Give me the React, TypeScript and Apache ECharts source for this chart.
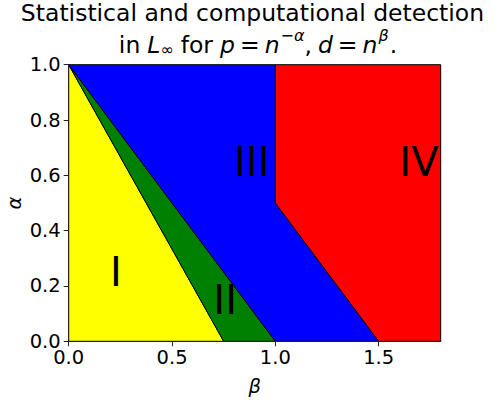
import React, { useEffect, useRef } from "react";
import * as echarts from "echarts";

// Region vertices (beta, alpha)
const regionI: number[][] = [[0, 0], [0, 1], [0.75, 0]];
const regionII: number[][] = [[0, 1], [0.75, 0], [1, 0]];
const regionIII: number[][] = [[0, 1], [1, 0], [1.5, 0], [1, 0.5], [1, 1]];
const regionIV: number[][] = [[1, 1], [1, 0.5], [1.5, 0], [1.8, 0], [1.8, 1]];
const regions = [regionI, regionII, regionIII, regionIV];
const regionColors = ["#ffff00", "#008000", "#0000ff", "#ff0000"];

// Region labels: text, beta, alpha (left/baseline anchored)
const labelTexts = ["I", "II", "III", "IV"];
const labelBeta = [0.2, 0.7, 0.8, 1.6];
const labelAlpha = [0.2, 0.1, 0.6, 0.6];

const betaTicks = [0, 0.5, 1.0, 1.5];
const alphaTicks = [0, 0.2, 0.4, 0.6, 0.8, 1.0];
const betaMax = 1.8;
const alphaMax = 1.0;

const titleLine1 = "Statistical and computational detection";
// title line 2 pieces: text, kind (r = roman, i = italic, sup/supi = superscript, sub = subscript), gap before (px)
const t2Text = ["in", "L", "∞", "for", "p", "=", "n", "−", "α", ",", "d", "=", "n", "β", "."];
const t2Kind = ["r", "i", "sub", "r", "i", "r", "i", "sup", "supi", "r", "i", "r", "i", "supi", "r"];
const t2Gap = [0, 7, 0, 7, 7, 5, 5, 1, 0, 0, 6, 5, 5, 1, 1];

const FONT = "DejaVu Sans";
const TICK_FS = 19.5;
const LABEL_FS = 40;
const TITLE1_FS = 23.5;
const TITLE_FS = 23.5;
const SCRIPT_FS = 16;

export default function App() {
  const ref = useRef<HTMLDivElement>(null);
  useEffect(() => {
    if (!ref.current) return;
    const chart = echarts.init(ref.current, undefined, { renderer: "svg" });
    const spine = { show: true, lineStyle: { color: "#222", width: 1 } };

    // lay out title line 2 with measured widths
    const ctx = document.createElement("canvas").getContext("2d") as CanvasRenderingContext2D;
    const pieceFont = (k: string) => {
      const small = k === "sub" || k === "sup" || k === "supi";
      const ital = k === "i" || k === "supi";
      return { size: small ? SCRIPT_FS : TITLE_FS, ital };
    };
    const widths = t2Text.map((t, i) => {
      const f = pieceFont(t2Kind[i]);
      ctx.font = `${f.ital ? "italic " : ""}${f.size}px "${FONT}"`;
      return ctx.measureText(t).width;
    });
    let total = 0;
    const xs: number[] = [];
    t2Text.forEach((_, i) => {
      total += t2Gap[i];
      xs.push(total);
      total += widths[i];
    });
    const line2Center = 258;
    const line2Left = line2Center - total / 2;
    const baseline2 = 53;
    const line2 = t2Text.map((t, i) => {
      const k = t2Kind[i];
      const f = pieceFont(k);
      const off = k === "sub" ? 2 : k === "sup" || k === "supi" ? -12.3 : 0;
      return {
        type: "text",
        x: line2Left + xs[i],
        y: baseline2 + off - 0.346 * f.size,
        style: {
          text: t,
          fontFamily: FONT,
          fontSize: f.size,
          fontStyle: f.ital ? "italic" : "normal",
          fill: "#000",
          align: "left",
          verticalAlign: "middle",
        },
      };
    });

    const option: any = {
      animation: false,
      backgroundColor: "#ffffff",
      grid: { left: 68.7, right: 61.3, top: 64.7, bottom: 61.7, outerBoundsMode: "none", containLabel: false },
      xAxis: [
        {
          type: "value",
          min: 0,
          max: betaMax,
          interval: 0.5,
          position: "bottom",
          z: 5,
          name: "β",
          nameLocation: "middle",
          nameGap: 35,
          nameMoveOverlap: false,
          nameTextStyle: { fontFamily: FONT, fontSize: TICK_FS, fontStyle: "italic", color: "#000" },
          axisLine: spine,
          axisTick: { show: true, customValues: betaTicks, length: 5, lineStyle: { color: "#222", width: 1 } },
          axisLabel: {
            customValues: betaTicks,
            margin: 6,
            fontFamily: FONT,
            fontSize: TICK_FS,
            color: "#000",
            formatter: (v: number) => v.toFixed(1),
          },
          splitLine: { show: false },
        },
        {
          type: "value",
          min: 0,
          max: betaMax,
          position: "top",
          z: 5,
          axisLine: spine,
          axisTick: { show: false },
          axisLabel: { show: false },
          splitLine: { show: false },
        },
      ],
      yAxis: [
        {
          type: "value",
          min: 0,
          max: alphaMax,
          interval: 0.2,
          position: "left",
          z: 5,
          axisLine: spine,
          axisTick: { show: true, customValues: alphaTicks, length: 5, lineStyle: { color: "#222", width: 1 } },
          axisLabel: {
            customValues: alphaTicks,
            margin: 8,
            fontFamily: FONT,
            fontSize: TICK_FS,
            color: "#000",
            formatter: (v: number) => v.toFixed(1),
          },
          splitLine: { show: false },
        },
        {
          type: "value",
          min: 0,
          max: alphaMax,
          position: "right",
          z: 5,
          axisLine: spine,
          axisTick: { show: false },
          axisLabel: { show: false },
          splitLine: { show: false },
        },
      ],
      series: [
        {
          type: "custom",
          xAxisIndex: 0,
          yAxisIndex: 0,
          z: 2,
          data: regions.map((_, i) => [i]),
          renderItem: (params: any, api: any) => {
            const verts = regions[params.dataIndex];
            const points = verts.map((v) => api.coord(v));
            return {
              type: "polygon",
              shape: { points },
              style: { fill: regionColors[params.dataIndex], stroke: "#000", lineWidth: 1 },
            };
          },
        },
        {
          type: "custom",
          xAxisIndex: 0,
          yAxisIndex: 0,
          z: 3,
          data: labelTexts.map((_, i) => [labelBeta[i], labelAlpha[i]]),
          renderItem: (params: any, api: any) => {
            const p = api.coord([api.value(0), api.value(1)]);
            return {
              type: "text",
              x: p[0],
              y: p[1] - 0.346 * LABEL_FS,
              style: {
                text: labelTexts[params.dataIndex],
                fontFamily: FONT,
                fontSize: LABEL_FS,
                fill: "#000",
                align: "left",
                verticalAlign: "middle",
              },
            };
          },
        },
      ],
      graphic: [
        {
          type: "text",
          x: 252.5,
          y: 20.7 - 0.346 * TITLE1_FS,
          style: {
            text: titleLine1,
            fontFamily: FONT,
            fontSize: TITLE1_FS,
            fill: "#000",
            align: "center",
            verticalAlign: "middle",
          },
        },
        {
          type: "text",
          x: 14,
          y: 203,
          rotation: Math.PI / 2,
          style: {
            text: "α",
            fontFamily: FONT,
            fontSize: TICK_FS,
            fontStyle: "italic",
            fill: "#000",
            align: "center",
            verticalAlign: "middle",
          },
        },
        ...line2,
      ],
    };
    chart.setOption(option);
    return () => chart.dispose();
  }, []);
  return (
    <div
      ref={ref}
      style={{ position: "fixed", left: 0, top: 0, width: 502, height: 403, background: "#fff" }}
    />
  );
}
